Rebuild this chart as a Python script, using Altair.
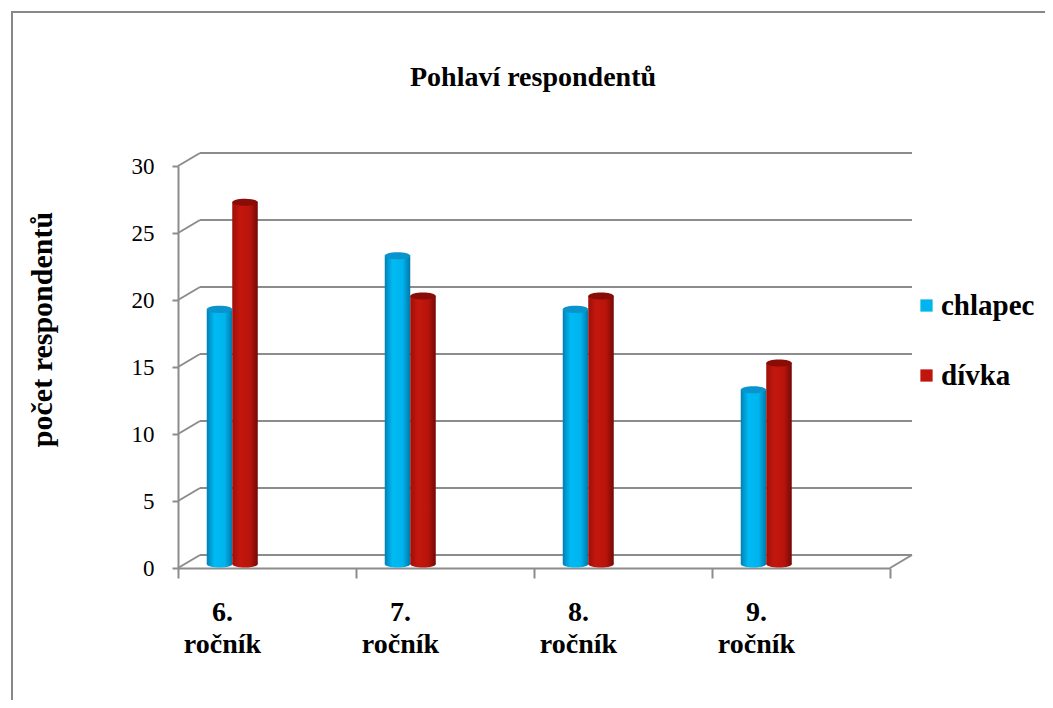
import altair as alt
import pandas as pd

title_text = "Pohlaví respondentů"
categories = ["6. ročník", "7. ročník", "8. ročník", "9. ročník"]
series = ["chlapec", "dívka"]
chlapec = [19, 23, 19, 13]
divka = [27, 20, 20, 15]
y_ticks = [0, 5, 10, 15, 20, 25, 30]
colors = ["#00b4ee", "#c0150c"]

rows = []
for c, a, b in zip(categories, chlapec, divka):
    rows.append({"rocnik": c, "pohlavi": series[0], "pocet": a})
    rows.append({"rocnik": c, "pohlavi": series[1], "pocet": b})
df = pd.DataFrame(rows)
grid_df = pd.DataFrame({"v": y_ticks})

FONT = "Liberation Serif"
W, H = 712, 402
DX, DY = 22, -13
BOFF = -4
BAR_W = 25.5
SHIFT = {"chlapec": -47.5, "dívka": -22}
GRID = "#8c8c8c"

def grad(stops):
    return alt.Gradient(
        gradient="linear",
        stops=[alt.GradientStop(color=c, offset=o) for o, c in stops],
        x1=0, x2=1, y1=0, y2=0,
    )

grads = {
    "chlapec": grad([(0, "#0080b4"), (0.3, "#00baf4"), (0.7, "#00b4ee"), (1, "#0078a8")]),
    "dívka": grad([(0, "#9c100a"), (0.3, "#c4170d"), (0.7, "#b8140b"), (1, "#740905")]),
}
cap_colors = {"chlapec": "#0a94cc", "dívka": "#8a0c06"}

yscale = alt.Scale(domain=[0, 30], nice=False)
x_enc = alt.X(
    "rocnik:N", sort=categories,
    scale=alt.Scale(paddingInner=0, paddingOuter=0),
    axis=alt.Axis(
        title=None, labelAngle=0, tickBand="extent",
        labelExpr="split(datum.label, ' ')",
        labelOffset=-45, labelFont=FONT, labelFontSize=28, labelFontWeight="bold",
        labelColor="black", labelLineHeight=32, labelPadding=20,
        domainColor=GRID, domainWidth=2, tickColor=GRID, tickWidth=2, tickSize=10,
    ),
)
y_enc = alt.Y(
    "pocet:Q", scale=yscale,
    axis=alt.Axis(
        values=y_ticks, grid=False, title="počet respondentů",
        titleFont=FONT, titleFontSize=30, titleFontWeight="bold", titleColor="black",
        titleAngle=270, titleX=-136, titleY=163, titleAlign="center", titleBaseline="middle",
        labelFont=FONT, labelFontSize=23, labelColor="black", labelPadding=18,
        domainColor=GRID, domainWidth=2, tickColor=GRID, tickWidth=2, tickSize=6,
    ),
)

one = pd.DataFrame({"t": [title_text]})

border = alt.Chart(one).mark_rect(
    fillOpacity=0, stroke="#888888", strokeWidth=2
).encode(
    x=alt.value(-166), x2=alt.value(W + 200), y=alt.value(-154), y2=alt.value(H + 200)
)

title = alt.Chart(one).mark_text(
    font=FONT, fontSize=28, fontWeight="bold", color="black",
    align="center", baseline="alphabetic",
).encode(text="t:N", x=alt.value(355), y=alt.value(-80))

grid_back = alt.Chart(grid_df).mark_rule(color=GRID, strokeWidth=2, yOffset=DY).encode(
    y=alt.Y("v:Q", scale=yscale), x=alt.value(DX), x2=alt.value(W + DX)
)
grid_diag = alt.Chart(grid_df).mark_rule(color=GRID, strokeWidth=2, y2Offset=DY).encode(
    y=alt.Y("v:Q", scale=yscale), y2="v:Q", x=alt.value(0), x2=alt.value(DX)
)
floor_diag = alt.Chart(grid_df).transform_filter(alt.datum.v == 0).mark_rule(
    color=GRID, strokeWidth=2, y2Offset=DY
).encode(
    y=alt.Y("v:Q", scale=yscale), y2="v:Q", x=alt.value(W), x2=alt.value(W + DX)
)

ellipse = "M-1,0 A1,0.28 0 1,0 1,0 A1,0.28 0 1,0 -1,0 Z"
CAP = BAR_W * BAR_W

legend_layer = alt.Chart(df).mark_point(size=0, filled=True, opacity=1).encode(
    x=x_enc, y=y_enc,
    color=alt.Color(
        "pohlavi:N", sort=series,
        scale=alt.Scale(domain=series, range=colors),
        legend=alt.Legend(
            title=None, orient="none", legendX=734, legendY=125,
            labelFont=FONT, labelFontSize=29, labelFontWeight="bold", labelColor="black",
            symbolType="square", symbolSize=150, symbolStrokeWidth=0, symbolOpacity=1,
            rowPadding=40, labelOffset=0,
        ),
    ),
)

layers = [border, title, grid_back, grid_diag, floor_diag, legend_layer]
for s in series:
    sub = alt.Chart(df).transform_filter(alt.datum.pohlavi == s)
    layers.append(
        sub.transform_calculate(zero="0").mark_point(
            shape=ellipse, size=CAP, filled=True, opacity=1, color=grads[s],
            yOffset=BOFF, xOffset=SHIFT[s],
        ).encode(x=x_enc, y=alt.Y("zero:Q", scale=yscale))
    )
for s in series:
    sub = alt.Chart(df).transform_filter(alt.datum.pohlavi == s)
    layers.append(
        sub.mark_bar(
            color=grads[s], size=BAR_W, yOffset=BOFF, y2Offset=BOFF,
            xOffset=SHIFT[s], x2Offset=SHIFT[s],
        ).encode(x=x_enc, y=y_enc)
    )
    layers.append(
        sub.mark_point(
            shape=ellipse, size=CAP, filled=True, opacity=1, color=cap_colors[s],
            yOffset=BOFF, xOffset=SHIFT[s],
        ).encode(x=x_enc, y=y_enc)
    )

chart = alt.layer(*layers).properties(
    width=W, height=H,
    background="white",
    autosize=alt.AutoSizeParams(type="none"),
    padding={"left": 170, "top": 158, "right": 155, "bottom": 132},
).configure_view(strokeWidth=0, stroke="transparent")

chart.save("out.html", embed_options={"renderer": "svg", "actions": False})
